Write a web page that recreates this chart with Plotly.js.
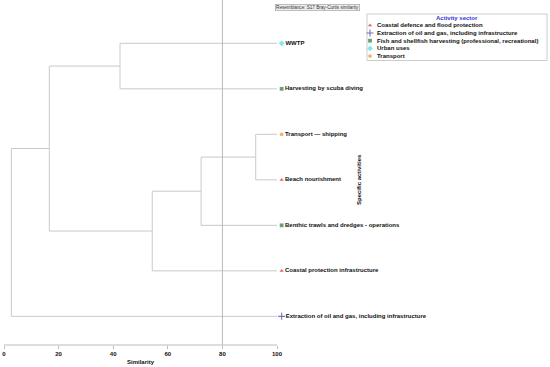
<!DOCTYPE html>
<html>
<head>
<meta charset="utf-8">
<script src="https://cdn.plot.ly/plotly-3.0.1.min.js"></script>
<style>html,body{margin:0;padding:0;background:#fff}#chart{width:550px;height:367px}</style>
</head>
<body>
<div id="chart"></div>
<script>
// ---- data ----
const leaves = [
  "WWTP",
  "Harvesting by scuba diving",
  "Transport \u2014 shipping",
  "Beach nourishment",
  "Benthic trawls and dredges - operations",
  "Coastal protection infrastructure",
  "Extraction of oil and gas, including infrastructure"
];
const leafSector = [
  "Urban uses",
  "Fish and shellfish harvesting (professional, recreational)",
  "Transport",
  "Coastal defence and flood protection",
  "Fish and shellfish harvesting (professional, recreational)",
  "Coastal defence and flood protection",
  "Extraction of oil and gas, including infrastructure"
];
// merges: node ids 0..6 are leaves, 7.. are merged clusters (in order)
const mergeA = [2, 7, 8, 0, 10, 11];
const mergeB = [3, 4, 5, 1, 9, 6];
const mergeSim = [92.2, 72.2, 54.3, 42.5, 16.6, 2.7];

const sectors = [
  "Coastal defence and flood protection",
  "Extraction of oil and gas, including infrastructure",
  "Fish and shellfish harvesting (professional, recreational)",
  "Urban uses",
  "Transport"
];
const sectorColors = ["#d42a2a", "#3a3aa0", "#1f7a4f", "#4fe0e6", "#f0962e"];
const sectorSymbols = ["triangle-up", "cross-thin", "square", "diamond", "circle"];
const xTicks = [0, 20, 40, 60, 80, 100];
const cutLevel = 80;

// ---- build dendrogram segments ----
const nodeX = [], nodeY = [];
leaves.forEach((l, i) => { nodeX.push(100); nodeY.push(i); });
const lx = [], ly = [];
mergeA.forEach((a, k) => {
  const b = mergeB[k], s = mergeSim[k];
  lx.push(nodeX[a], s, s, nodeX[b], null);
  ly.push(nodeY[a], nodeY[a], nodeY[b], nodeY[b], null);
  nodeX.push(s);
  nodeY.push((nodeY[a] + nodeY[b]) / 2);
});

const FONT = "Liberation Sans, Arial, sans-serif";
const mSize = s => s === "cross-thin" ? 5 : (s === "diamond" ? 4.5 : 3.8);
const mLine = s => s === "cross-thin" ? 1.1 : 0;
const traces = [];
traces.push({
  x: lx, y: ly, mode: "lines", type: "scatter",
  line: {color: "#c9c9c9", width: 1}, hoverinfo: "skip", showlegend: false
});
const si = leafSector.map(s => sectors.indexOf(s));
traces.push({
  x: leaves.map(() => 101.7), y: leaves.map((l, i) => i),
  mode: "markers+text", type: "scatter", text: leaves,
  textposition: "middle right",
  textfont: {family: FONT, size: 6, color: "#111", weight: "bold"},
  marker: {
    color: si.map(i => sectorColors[i]),
    symbol: si.map(i => sectorSymbols[i]),
    size: si.map(i => mSize(sectorSymbols[i])),
    line: {color: si.map(i => sectorColors[i]), width: si.map(i => mLine(sectorSymbols[i]))}
  },
  cliponaxis: false, showlegend: false
});
// legend markers (overlay pixel-like axes)
const legTop = 25.3, legStep = 7.7;
traces.push({
  x: sectors.map(() => 370), y: sectors.map((s, i) => legTop + i * legStep),
  xaxis: "x2", yaxis: "y2", mode: "markers", type: "scatter",
  marker: {
    color: sectorColors, symbol: sectorSymbols,
    size: sectorSymbols.map(mSize),
    line: {color: sectorColors, width: sectorSymbols.map(mLine)}
  },
  cliponaxis: false, showlegend: false, hoverinfo: "skip"
});

const annotations = [
  {xref: "x", yref: "paper", x: 50, y: -0.049, text: "Similarity", showarrow: false,
   font: {family: FONT, size: 6, color: "#111", weight: "bold"}, yanchor: "middle"},
  {xref: "x2", yref: "y2", x: 359, y: 180, text: "Specific activities", textangle: -90, showarrow: false,
   font: {family: FONT, size: 6, color: "#111", weight: "bold"}},
  {xref: "x2", yref: "y2", x: 317, y: 7.5, text: "Resemblance: S17 Bray-Curtis similarity", showarrow: false,
   font: {family: FONT, size: 4.6, color: "#333"}, bgcolor: "#eeeeee", bordercolor: "#999", borderwidth: 0.6, borderpad: 0.5},
  {xref: "x2", yref: "y2", x: 457, y: 18.3, text: "Activity sector", showarrow: false,
   font: {family: FONT, size: 6, color: "#3535d8", weight: "bold"}}
];
sectors.forEach((s, i) => annotations.push({
  xref: "x2", yref: "y2", x: 374.5, y: legTop + i * legStep, xanchor: "left", text: s, showarrow: false,
  font: {family: FONT, size: 6, color: "#111", weight: "bold"}
}));

const layout = {
  width: 550, height: 367,
  margin: {l: 4, r: 0, t: 0, b: 22},
  paper_bgcolor: "#fff", plot_bgcolor: "#fff",
  showlegend: false,
  font: {family: FONT},
  xaxis: {
    range: [0, 200], tickvals: xTicks, ticktext: xTicks.map(String),
    ticks: "outside", ticklen: 3, tickcolor: "#bbb", showgrid: false, zeroline: false, showline: false,
    tickfont: {family: FONT, size: 6, color: "#111", weight: "bold"}
  },
  yaxis: {range: [6.63, -0.952], visible: false, showgrid: false, zeroline: false},
  xaxis2: {domain: [0, 1], range: [4, 550], anchor: "y2", overlaying: "x", visible: false},
  yaxis2: {domain: [0, 1], range: [345, 0], anchor: "x2", overlaying: "y", visible: false},
  shapes: [
    {type: "line", xref: "x", yref: "paper", x0: 0, x1: 100, y0: 0, y1: 0, line: {color: "#bbb", width: 1}},
    {type: "line", xref: "x", yref: "paper", x0: cutLevel, x1: cutLevel, y0: 0, y1: 1, line: {color: "#b8b8b8", width: 1}},
    {type: "rect", xref: "x2", yref: "y2", x0: 367, x1: 547, y0: 14, y1: 60.5, line: {color: "#ccc", width: 1}, fillcolor: "#fff", layer: "below"}
  ],
  annotations: annotations
};
Plotly.newPlot("chart", traces, layout, {staticPlot: true, displayModeBar: false});
</script>
</body>
</html>
